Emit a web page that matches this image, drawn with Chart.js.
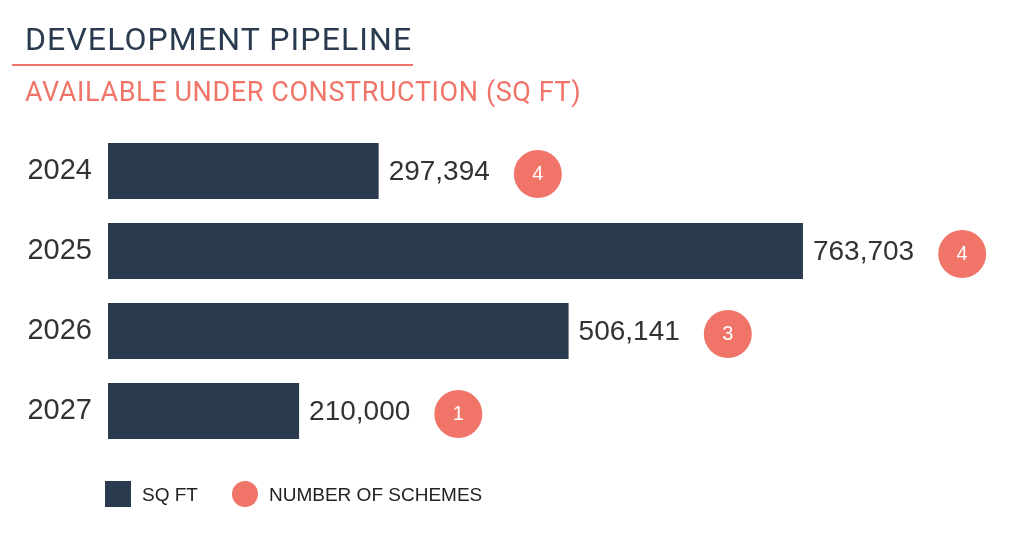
<!DOCTYPE html>
<html>
<head>
<meta charset="utf-8">
<script src="https://cdn.jsdelivr.net/npm/chart.js@4/dist/chart.umd.min.js"></script>
<style>
    body { margin: 0; background: #fff; }
    #wrap { position: relative; width: 1024px; height: 540px; overflow: hidden; }
    #chart { position: absolute; left: 0; top: 0; }
    .title { position: absolute; left: 25px; top: 20px; font: 32px Roboto, sans-serif; color: #2a3b4f; letter-spacing: 1.1px; }
    .rule { position: absolute; left: 12px; top: 64px; width: 401px; height: 2px; background: #f07468; }
    .sub { position: absolute; left: 25px; top: 76px; font: 27px Roboto, sans-serif; color: #f07468; letter-spacing: 0.6px; }
    .legend { position: absolute; top: 481px; left: 105px; font: 19px "Liberation Sans", sans-serif; color: #222; }
    .legend span { position: absolute; white-space: nowrap; }
</style>
</head>
<body>
<div id="wrap">
    <canvas id="chart" width="1024" height="540"></canvas>
    <div class="title">DEVELOPMENT PIPELINE</div>
    <div class="rule"></div>
    <div class="sub">AVAILABLE UNDER CONSTRUCTION (SQ FT)</div>
    <div class="legend">
        <span style="left:0;top:0;width:26px;height:26px;background:#2a3b4f"></span>
        <span style="left:37px;top:3px">SQ FT</span>
        <span style="left:127px;top:0;width:26px;height:26px;border-radius:50%;background:#f07468"></span>
        <span style="left:164px;top:3px">NUMBER OF SCHEMES</span>
    </div>
</div>
<script>
const years = ["2024", "2025", "2026", "2027"];
const sqft = [297394, 763703, 506141, 210000];
const schemes = [4, 4, 3, 1];

const navy = "#2a3b4f";
const coral = "#f07468";

// value label + scheme count bubble at the end of every bar
const endLabels = {
    id: "endLabels",
    afterDatasetsDraw(chart) {
        const ctx = chart.ctx;
        const meta = chart.getDatasetMeta(0);
        ctx.save();
        meta.data.forEach((bar, i) => {
            const txt = sqft[i].toLocaleString("en-US");
            ctx.font = "28px 'Liberation Sans', sans-serif";
            ctx.fillStyle = "#333";
            ctx.textAlign = "left";
            ctx.textBaseline = "middle";
            const tx = bar.x + 10;
            ctx.fillText(txt, tx, bar.y + 1);
            const w = ctx.measureText(txt).width;
            const cx = tx + w + 24 + 24;
            ctx.beginPath();
            ctx.arc(cx, bar.y + 3, 24, 0, Math.PI * 2);
            ctx.fillStyle = coral;
            ctx.fill();
            ctx.font = "20px 'Liberation Sans', sans-serif";
            ctx.fillStyle = "#fff";
            ctx.textAlign = "center";
            ctx.fillText(String(schemes[i]), cx, bar.y + 3);
        });
        ctx.restore();
    }
};

new Chart("chart", {
    type: "bar",
    data: {
        labels: years,
        datasets: [{
            label: "SQ FT",
            data: sqft,
            backgroundColor: navy,
            barPercentage: 0.7,
            categoryPercentage: 1
        }]
    },
    options: {
        indexAxis: "y",
        responsive: false,
        animation: false,
        layout: { padding: { top: 131, bottom: 89, left: 0, right: 6 } },
        plugins: {
            legend: { display: false },
            tooltip: { enabled: false }
        },
        scales: {
            x: {
                min: 0,
                max: 1000000,
                display: false
            },
            y: {
                grid: { display: false },
                border: { display: false },
                ticks: {
                    color: "#333",
                    padding: 8,
                    font: { family: "'Liberation Sans', sans-serif", size: 29 }
                },
                afterFit(scale) { scale.width = 108; }
            }
        }
    },
    plugins: [endLabels]
});
</script>
</body>
</html>
